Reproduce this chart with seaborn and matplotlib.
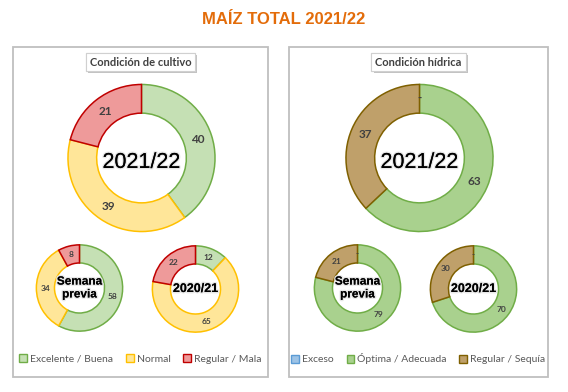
import matplotlib
matplotlib.use("Agg")
import numpy as np
import matplotlib.pyplot as plt
import matplotlib.patheffects as pe
from matplotlib.patches import Patch, Rectangle
import seaborn as sns

# datos
titulo = "MAÍZ TOTAL 2021/22"

cultivo_cats = ["Excelente / Buena", "Normal", "Regular / Mala"]
cultivo_actual = [40, 39, 21]
cultivo_previa = [58, 34, 8]
cultivo_anterior = [12, 65, 22]
cultivo_fill = ["#C5E0B4", "#FFE699", "#EE9A9A"]
cultivo_edge = ["#70AD47", "#FFC000", "#C00000"]

hidrica_cats = ["Exceso", "Óptima / Adecuada", "Regular / Sequía"]
hidrica_actual = [0, 63, 37]
hidrica_previa = [0, 79, 21]
hidrica_anterior = [0, 70, 30]
hidrica_fill = ["#9DC3E6", "#A9D18E", "#BFA06A"]
hidrica_edge = ["#5B9BD5", "#70AD47", "#7F6000"]

sns.set_style("white")
plt.rcParams["font.family"] = ["Lato", "DejaVu Sans"]
angosta = ["Liberation Sans", "DejaVu Sans"]

W, H = 568, 392
fig = plt.figure(figsize=(W / 100, H / 100), dpi=100)


def px_axes(cx, cy, r):
    # ejes cuadrados centrados en (cx, cy) en pixeles desde arriba
    return fig.add_axes([(cx - r) / W, 1 - (cy + r) / H, 2 * r / W, 2 * r / H])


def dona(cx, cy, r, valores, fill, edge, ancho, centro, fs_centro, fs_num, peso, dy):
    ax = px_axes(cx, cy, r)
    wedges, _ = ax.pie(valores, colors=fill, startangle=90, counterclock=False,
                       radius=1, wedgeprops=dict(width=ancho, linewidth=1.1))
    for w, e, v in zip(wedges, edge, valores):
        w.set_edgecolor(e)
        mid = np.deg2rad((w.theta1 + w.theta2) / 2)
        rr = 1 - ancho / 2
        txt = str(v) if v > 0 else "-"
        ax.text(rr * np.cos(mid), rr * np.sin(mid), txt, ha="center", va="center",
                fontsize=fs_num, color="#404040", fontweight="bold")
    t = ax.text(0, dy, centro, ha="center", va="center", fontsize=fs_centro,
                fontweight=peso, color="black", linespacing=1.1, family=angosta)
    t.set_path_effects([pe.withStroke(linewidth=2, foreground="#E8E8E8"), pe.Normal()])
    ax.set_xlim(-1.02, 1.02)
    ax.set_ylim(-1.02, 1.02)
    ax.set_aspect("equal")
    ax.axis("off")
    return ax


# titulo general
fig.text(284 / W, 1 - 19 / H, titulo, ha="center", va="center", fontsize=12,
         fontweight="bold", color="#E36C0A", family=angosta)

paneles = [
    (13, 268, "Condición de cultivo", cultivo_cats, cultivo_fill, cultivo_edge,
     [cultivo_actual, cultivo_previa, cultivo_anterior]),
    (289, 548, "Condición hídrica", hidrica_cats, hidrica_fill, hidrica_edge,
     [hidrica_actual, hidrica_previa, hidrica_anterior]),
]

for x0, x1, nombre, cats, fill, edge, series in paneles:
    fig.patches.append(Rectangle((x0 / W, 1 - 377 / H), (x1 - x0) / W, (377 - 47) / H,
                                 transform=fig.transFigure, fill=False,
                                 edgecolor="#BFBFBF", linewidth=1.3))
    cx = (x0 + x1) / 2
    tt = fig.text(cx / W, 1 - 62 / H, nombre, ha="center", va="center", fontsize=8,
                  color="#404040", fontweight="bold",
                  bbox=dict(boxstyle="square,pad=0.35", fc="white", ec="#D0D0D0", lw=0.8))
    tt.get_bbox_patch().set_path_effects([
        pe.withSimplePatchShadow(offset=(1.5, -1.5), shadow_rgbFace="#888888", alpha=0.5),
        pe.Normal()])
    dona(cx + 1, 158, 75, series[0], fill, edge, 0.39, "2021/22", 15.5, 8.5, "normal", -0.06)
    dona(cx - 61, 288, 44, series[1], fill, edge, 0.42, "Semana\nprevia", 8.5, 6, "bold", 0.0)
    dona(cx + 55, 289, 44, series[2], fill, edge, 0.42, "2020/21", 9, 6, "bold", 0.0)
    handles = [Patch(facecolor=f, edgecolor=e, linewidth=1) for f, e in zip(fill, edge)]
    fig.legend(handles, cats, loc="center", bbox_to_anchor=(cx / W, 1 - 359 / H), ncol=3,
               frameon=False, fontsize=7.5, handlelength=0.75, handleheight=0.75,
               handletextpad=0.3, columnspacing=1.2, labelcolor="#595959")

fig.savefig("out.png", dpi=100)
